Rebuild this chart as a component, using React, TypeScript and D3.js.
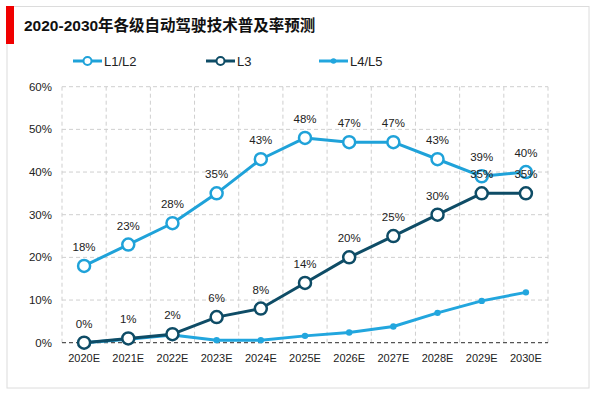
import React from "react";
import * as d3 from "d3";

const categories = ["2020E","2021E","2022E","2023E","2024E","2025E","2026E","2027E","2028E","2029E","2030E"];
const l12 = [18,23,28,35,43,48,47,47,43,39,40];
const l3 = [0,1,2,6,8,14,20,25,30,35,35];
const l45 = [0,0.8,1.8,0.6,0.6,1.6,2.4,3.8,7,9.8,11.8];
const yTicks = [0,10,20,30,40,50,60];
const title = "2020-2030年各级自动驾驶技术普及率预测";
const seriesNames = ["L1/L2","L3","L4/L5"];

const C12 = "#1fa2d9";
const C3 = "#0e4c66";
const C45 = "#22a6de";
const FONT = "'Liberation Sans', Arial, 'Noto Sans CJK SC', sans-serif";

export default function App() {
  const W = 600, H = 393;
  const left = 62, right = 548, top = 86.7, bottom = 342.7;
  const x = d3.scaleBand<string>().domain(categories).range([left, right]);
  const cx = (c: string) => (x(c) as number) + x.bandwidth() / 2;
  const y = d3.scaleLinear().domain([0, 60]).range([bottom, top]);
  const line = d3.line<number>().x((_, i) => cx(categories[i])).y((d) => y(d));
  const boundaries = categories.map((c) => x(c) as number).concat([right]);

  return (
    <svg width={W} height={H} style={{ position: "absolute", left: 0, top: 0, background: "#fff" }} fontFamily={FONT}>
      <rect x={7} y={6.5} width={582} height={381.5} fill="#fff" stroke="#dcdcdc" strokeWidth={1} />
      <rect x={6} y={6} width={8} height={38} fill="#f00000" />
      <text x={24} y={31} fontSize={15.5} fontWeight="bold" fill="#111">{title}</text>

      {/* legend */}
      <g fontSize={13} fill="#222">
        <line x1={73} x2={102} y1={61} y2={61} stroke={C12} strokeWidth={3} />
        <circle cx={87.5} cy={61} r={4} fill="#fff" stroke={C12} strokeWidth={2} />
        <text x={104} y={65.5}>{seriesNames[0]}</text>
        <line x1={206} x2={235} y1={61} y2={61} stroke={C3} strokeWidth={3} />
        <circle cx={220.5} cy={61} r={4} fill="#fff" stroke={C3} strokeWidth={2} />
        <text x={237} y={65.5}>{seriesNames[1]}</text>
        <line x1={319} x2={348} y1={61} y2={61} stroke={C45} strokeWidth={3} />
        <circle cx={333.5} cy={61} r={2.8} fill={C45} />
        <text x={350} y={65.5}>{seriesNames[2]}</text>
      </g>

      {/* grid */}
      {yTicks.filter((t) => t > 0).map((t) => (
        <line key={t} x1={left} x2={right} y1={y(t)} y2={y(t)} stroke="#cfcfcf" strokeDasharray="4,3" />
      ))}
      {boundaries.map((b, i) => (
        <line key={i} x1={b} x2={b} y1={top} y2={bottom} stroke="#cfcfcf" strokeDasharray="4,3" />
      ))}
      <line x1={left} x2={right} y1={bottom} y2={bottom} stroke="#555" strokeWidth={1.2} strokeDasharray="4,3" />

      {/* axis labels */}
      {yTicks.map((t) => (
        <text key={t} x={52} y={y(t) + 4} textAnchor="end" fontSize={11.5} fill="#222">{t}%</text>
      ))}
      {categories.map((c) => (
        <text key={c} x={cx(c)} y={362} textAnchor="middle" fontSize={11} fill="#222">{c}</text>
      ))}

      {/* L4/L5 */}
      <path d={line(l45) || ""} fill="none" stroke={C45} strokeWidth={3} strokeLinejoin="round" />
      {l45.map((v, i) => (
        <circle key={i} cx={cx(categories[i])} cy={y(v)} r={3.2} fill={C45} />
      ))}

      {/* L3 */}
      <path d={line(l3) || ""} fill="none" stroke={C3} strokeWidth={3} strokeLinejoin="round" />
      {l3.map((v, i) => (
        <circle key={i} cx={cx(categories[i])} cy={y(v)} r={6} fill="#fff" stroke={C3} strokeWidth={2.5} />
      ))}

      {/* L1/L2 */}
      <path d={line(l12) || ""} fill="none" stroke={C12} strokeWidth={3} strokeLinejoin="round" />
      {l12.map((v, i) => (
        <circle key={i} cx={cx(categories[i])} cy={y(v)} r={6} fill="#fff" stroke={C12} strokeWidth={2.5} />
      ))}

      {/* data labels */}
      <g fontSize={11.5} fill="#222" textAnchor="middle">
        {l12.map((v, i) => (
          <text key={"a" + i} x={cx(categories[i])} y={y(v) - 15}>{v}%</text>
        ))}
        {l3.map((v, i) => (
          <text key={"b" + i} x={cx(categories[i])} y={y(v) - 15}>{v}%</text>
        ))}
      </g>
    </svg>
  );
}
